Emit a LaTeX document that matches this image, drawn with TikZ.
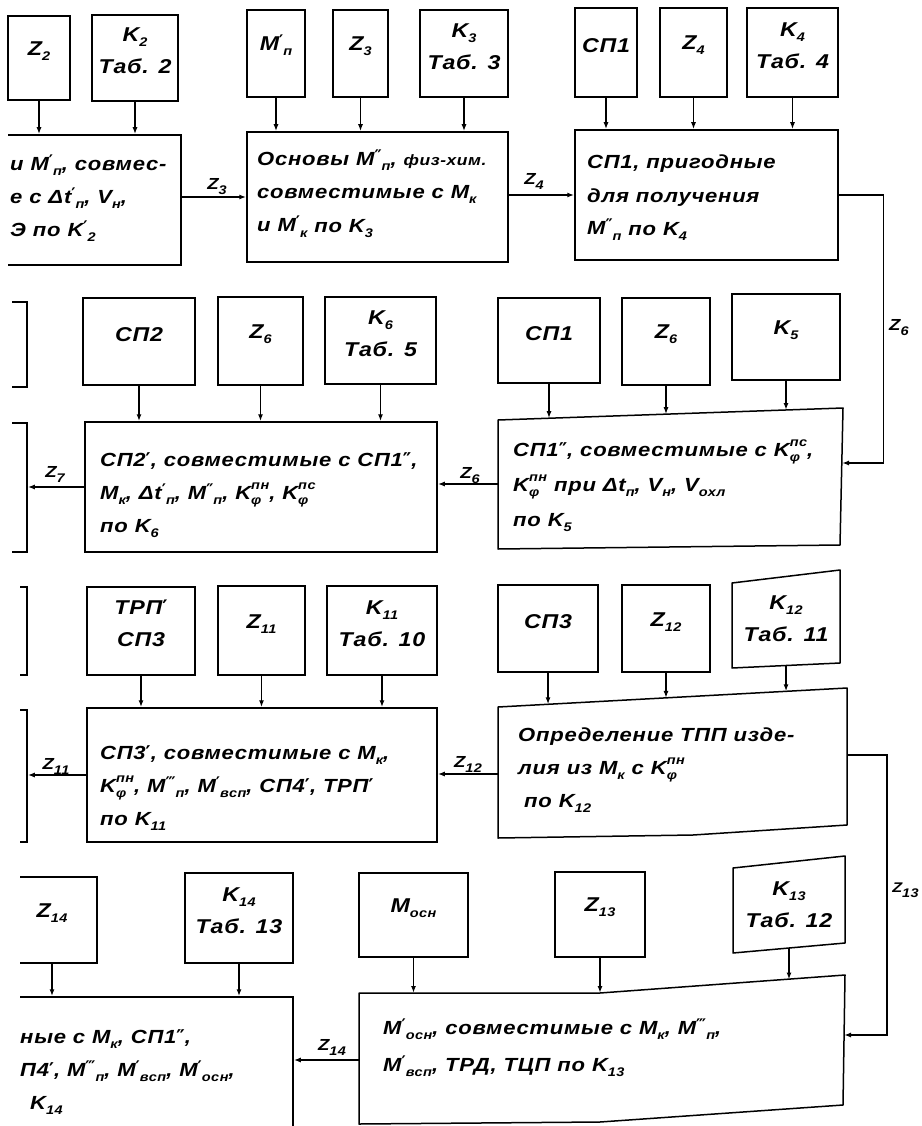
\documentclass[tikz,border=0pt]{standalone}
\usepackage{fontspec}
\setmainfont{Liberation Sans}[FakeStretch=1.16,LetterSpace=4]
\newfontfamily\djv{DejaVu Sans}
\usetikzlibrary{arrows.meta,fit}
\newcommand\scf{\fontsize{12.5}{12}\selectfont}
\newcommand\sub[1]{\raisebox{-5pt}{\scf #1}}
\newcommand\spr[1]{\raisebox{9.5pt}{\scf #1}}
\newcommand\pI{{\djv\upshape ′}}
\newcommand\pII{{\djv\upshape ″}}
\newcommand\pIII{{\djv\upshape ‴}}
\newcommand\SP[3]{#1\raisebox{4pt}{\fontsize{16}{16}\selectfont #2}\sub{#3}}
\newcommand\Kf[1]{K\rlap{\sub{φ}}\spr{#1}}
\newcommand\bigf{\fontsize{19}{33}\selectfont\bfseries\itshape}
\newcommand\boxf{\fontsize{20}{32}\selectfont\bfseries\itshape}
\newcommand\lblf{\fontsize{16}{18}\selectfont\bfseries\itshape}
\newcommand\smf{\fontsize{15}{16}\selectfont\bfseries\itshape}
\newcommand\lines[1]{\begin{tabular}[t]{@{}l@{}}#1\end{tabular}}
\begin{document}
\begin{tikzpicture}[x=1pt,y=-1pt,
  bx/.style={draw,line width=1.5pt,inner sep=0pt,align=center,font=\boxf},
  pg/.style={draw,line width=1.5pt,line join=round},
  arr/.style={line width=1.4pt,-{Latex[length=7pt,width=5pt]}},
  txt/.style={anchor=base west,inner sep=0pt,font=\bigf},
  lbl/.style={inner sep=0pt,font=\lblf},
  ctr/.style={inner sep=0pt,align=center,font=\boxf}]
\useasboundingbox (0,0) rectangle (921,1126);
\fill[white] (0,0) rectangle (921,1126);

% ---------------- Row 1
\node[bx,fit={(8,16)(70,100)}] (z2) {Z\sub{2}};
\node[bx,fit={(92,15)(178,101)}] (k2) {K\sub{2}\\Таб. 2};
\node[bx,fit={(247,10)(305,97)}] (mp) {\SP{M}{\pI}{п}};
\node[bx,fit={(333,10)(388,97)}] (z3) {Z\sub{3}};
\node[bx,fit={(420,10)(508,97)}] (k3) {K\sub{3}\\Таб. 3};
\node[bx,fit={(575,8)(637,97)}] (sp1) {СП1};
\node[bx,fit={(660,8)(727,97)}] (z4) {Z\sub{4}};
\node[bx,fit={(747,8)(838,97)}] (k4) {K\sub{4}\\Таб. 4};
\begin{scope}
\clip (8,120) rectangle (200,280);
\node[bx,fit={(-10,135)(181,265)}] (b1) {};
\end{scope}
\node[bx,fit={(247,132)(508,262)}] (b2) {};
\node[bx,fit={(575,130)(838,260)}] (b3) {};
\node[txt] (t1) at (10,171) {\lines{и \SP{M}{\pI}{п}, совмес-\\е с Δ\SP{t}{\pI}{п}, V\sub{н},\\Э по \SP{K}{\pI}{2}}};
\node[txt] (t2) at (257,166) {\lines{Основы \SP{M}{\pII}{п}, {\smf физ-хим.}\\совместимые с M\sub{к}\\и \SP{M}{\pI}{к} по K\sub{3}}};
\node[txt] (t3) at (587,169) {\lines{СП1, пригодные\\для получения\\\SP{M}{\pII}{п} по K\sub{4}}};
\foreach \s/\t in {z2/b1,k2/b1,mp/b2,z3/b2,k3/b2,sp1/b3,z4/b3,k4/b3}
  \draw[arr] (\s.south) -- (\s.south |- \t.north);
\draw[arr] (b1.east |- b2.west) -- (b2.west);
\node[lbl] (lz3) at (217,187) {Z\sub{3}};
\draw[arr] (b2.east |- b3.west) -- (b3.west);
\node[lbl] (lz4) at (534,181) {Z\sub{4}};

% ---------------- Row 2
\node[bx,fit={(83,298)(195,385)}] (sp2) {СП2};
\node[bx,fit={(218,297)(303,385)}] (z6a) {Z\sub{6}};
\node[bx,fit={(325,297)(436,384)}] (k6) {K\sub{6}\\Таб. 5};
\node[bx,fit={(498,298)(600,383)}] (sp1b) {СП1};
\node[bx,fit={(622,298)(710,385)}] (z6b) {Z\sub{6}};
\node[bx,fit={(732,294)(840,380)}] (k5) {K\sub{5}};
\node[bx,fit={(85,422)(437,552)}] (b4) {};
\draw[pg] (498,420) -- (843,408) -- (840,545) -- (498,549) -- cycle;
\coordinate (b5a) at (549,418.2);
\coordinate (b5b) at (666,414.2);
\coordinate (b5c) at (786,410);
\coordinate (b5w) at (498,484);
\coordinate (b5e) at (842,463);
\begin{scope}
\clip (12,290) rectangle (40,560);
\node[bx,fit={(0,302)(27,387)}] (lu2) {};
\node[bx,fit={(0,423)(27,552)}] (ll2) {};
\end{scope}
\node[txt] (t4) at (100,466) {\lines{СП2\pI, совместимые с СП1\pII,\\M\sub{к}, Δ\SP{t}{\pI}{п}, \SP{M}{\pII}{п}, \Kf{пн}, \Kf{пс}\\по K\sub{6}}};
\node[txt] (t5) at (513,456) {\lines{СП1\pII, совместимые с \Kf{пс},\\[2pt]\Kf{пн} при Δt\sub{п}, V\sub{н}, V\sub{охл}\\[2pt]по K\sub{5}}};
\foreach \s in {sp2,z6a,k6}
  \draw[arr] (\s.south) -- (\s.south |- b4.north);
\draw[arr] (sp1b.south) -- (b5a);
\draw[arr] (z6b.south) -- (b5b);
\draw[arr] (k5.south) -- (b5c);
\draw[arr] (b4.west) -- (b4.west -| ll2.east);
\node[lbl] (lz7) at (55,474) {Z\sub{7}};
\draw[arr] (b5w) -- (b5w -| b4.east);
\node[lbl] (lz6m) at (470,476) {Z\sub{6}};
\draw[arr] (b3.east) -- ++(45,0) |- (b5e);
\node[lbl,anchor=west] (lz6r) at (889,328) {Z\sub{6}};

% ---------------- Row 3
\node[bx,fit={(87,587)(195,675)}] (trp) {ТРП\pI\\СП3};
\node[bx,fit={(218,586)(305,675)}] (z11) {Z\sub{11}};
\node[bx,fit={(327,586)(437,675)}] (k11) {K\sub{11}\\Таб. 10};
\node[bx,fit={(498,585)(598,672)}] (sp3) {СП3};
\node[bx,fit={(622,585)(710,672)}] (z12) {Z\sub{12}};
\draw[pg] (732,583) -- (840,570) -- (840,663) -- (732,668) -- cycle;
\node[ctr] (k12) at (786,619) {K\sub{12}\\Таб. 11};
\coordinate (k12s) at (786,665.5);
\node[bx,fit={(87,708)(437,842)}] (b7) {};
\draw[pg] (498,707) -- (847,688) -- (847,825) -- (693,835) -- (498,838) -- cycle;
\coordinate (b8a) at (548,704.3);
\coordinate (b8b) at (666,697.9);
\coordinate (b8c) at (786,691.3);
\coordinate (b8w) at (498,774);
\coordinate (b8e) at (847,755);
\begin{scope}
\clip (20,580) rectangle (40,850);
\node[bx,fit={(0,587)(27,675)}] (lu3) {};
\node[bx,fit={(0,710)(27,842)}] (ll3) {};
\end{scope}
\node[txt] (t7) at (100,759) {\lines{СП3\pI, совместимые с M\sub{к},\\\Kf{пн}, \SP{M}{\pIII}{п}, \SP{M}{\pI}{всп}, СП4\pI, ТРП\pI\\по K\sub{11}}};
\node[txt] (t8) at (518,741) {\lines{Определение ТПП изде-\\лия из M\sub{к} с \Kf{пн}\\\hspace{6pt}по K\sub{12}}};
\foreach \s in {trp,z11,k11}
  \draw[arr] (\s.south) -- (\s.south |- b7.north);
\draw[arr] (sp3.south) -- (b8a);
\draw[arr] (z12.south) -- (b8b);
\draw[arr] (k12s) -- (b8c);
\draw[arr] (b7.west) -- (b7.west -| ll3.east);
\node[lbl] (lz11) at (56,766) {Z\sub{11}};
\draw[arr] (b8w) -- (b8w -| b7.east);
\node[lbl] (lz12) at (468,764) {Z\sub{12}};

% ---------------- Row 4
\begin{scope}
\clip (20,860) rectangle (300,1130);
\node[bx,fit={(7,877)(97,963)}] (z14) {Z\sub{14}};
\node[bx,fit={(-10,997)(293,1135)}] (b9) {};
\end{scope}
\node[bx,fit={(185,873)(293,963)}] (k14) {K\sub{14}\\Таб. 13};
\node[bx,fit={(359,873)(468,957)}] (mosn) {M\sub{осн}};
\node[bx,fit={(555,872)(645,957)}] (z13) {Z\sub{13}};
\draw[pg] (733,868) -- (845,856) -- (845,943) -- (733,953) -- cycle;
\node[ctr] (k13) at (789,905) {K\sub{13}\\Таб. 12};
\coordinate (k13s) at (789,948);
\draw[pg] (359,993) -- (600,993) -- (845,975) -- (843,1105) -- (600,1122) -- (359,1124) -- cycle;
\coordinate (b10a) at (413.5,993);
\coordinate (b10b) at (600,993);
\coordinate (b10c) at (789,979.5);
\coordinate (b10w) at (359,1060);
\coordinate (b10e) at (844,1035);
\node[txt] (t9) at (20,1043) {\lines{ные с M\sub{к}, СП1\pII,\\П4\pI, \SP{M}{\pIII}{п}, \SP{M}{\pI}{всп}, \SP{M}{\pI}{осн},\\\hspace{10pt}K\sub{14}}};
\node[txt] (t10) at (383,1034) {\lines{\SP{M}{\pI}{осн}, совместимые с M\sub{к}, \SP{M}{\pIII}{п},\\[4pt]\SP{M}{\pI}{всп}, ТРД, ТЦП по K\sub{13}}};
\draw[arr] (z14.south) -- (z14.south |- b9.north);
\draw[arr] (k14.south) -- (k14.south |- b9.north);
\draw[arr] (mosn.south) -- (b10a);
\draw[arr] (z13.south) -- (b10b);
\draw[arr] (k13s) -- (b10c);
\draw[arr] (b10w) -- (b10w -| b9.east);
\node[lbl] (lz14) at (332,1047) {Z\sub{14}};
\draw[arr] (b8e) -- ++(40,0) |- (b10e);
\node[lbl,anchor=east,font=\fontsize{14}{16}\selectfont\bfseries\itshape] (lz13) at (919,890) {Z\sub{13}};
\end{tikzpicture}
\end{document}
